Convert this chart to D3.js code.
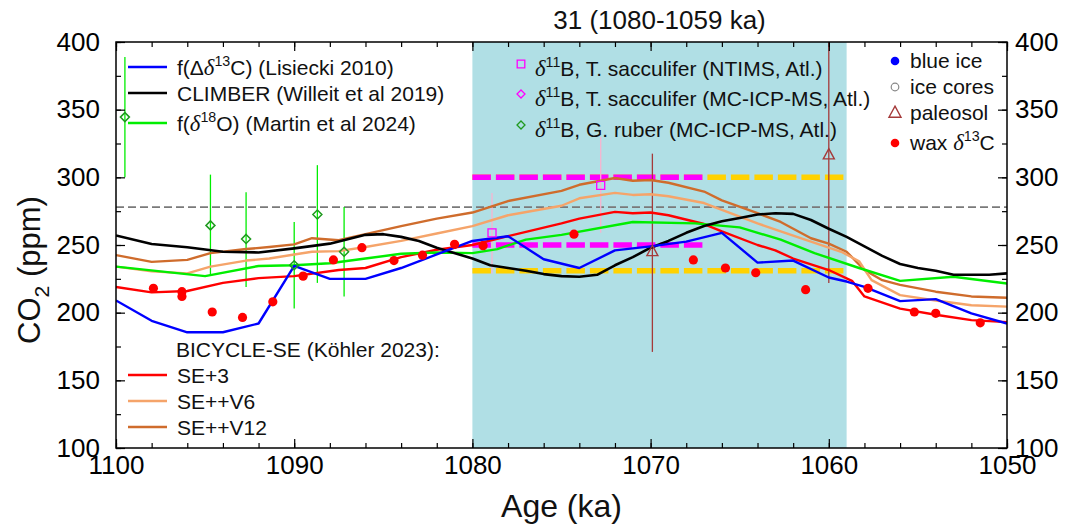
<!DOCTYPE html>
<html>
<head>
<meta charset="utf-8">
<script src="https://cdn.jsdelivr.net/npm/d3@7"></script>
<style>
  html, body { margin: 0; padding: 0; background: #fff; }
  svg { display: block; font-family: "Liberation Sans", Arial, Helvetica, sans-serif; }
</style>
</head>
<body>
<svg id="chart" width="1068" height="529"></svg>
<script>
// ---------- axis ticks ----------
const ageTicks = [1100, 1090, 1080, 1070, 1060, 1050];
const ageMinorTicks = d3.range(1100, 1049, -2);
const co2Ticks = [100, 150, 200, 250, 300, 350, 400];
const co2MinorTicks = d3.range(100, 401, 25);

// ---------- window of interest (MIS 31) ----------
const stageWindow = [1080, 1059];
const preindustrialCO2 = 278;

// ---------- f(Δδ13C), Lisiecki 2010 ----------
const lisieckiAge = [1100, 1098, 1096, 1094, 1092, 1090, 1088, 1086, 1084, 1082, 1080, 1078, 1076, 1074, 1072, 1070, 1068, 1066, 1064, 1062, 1060, 1059, 1058, 1056, 1054, 1052, 1050];
const lisieckiCO2 = [209, 194, 185.5, 185.5, 192, 234.5, 225, 225, 233, 243, 253, 256.5, 239.5, 233, 246, 249, 252.5, 259, 237, 238.5, 226, 223, 219, 208.5, 210, 199.5, 192];

// ---------- CLIMBER, Willeit et al 2019 ----------
const climberAge = [1100, 1098, 1096, 1094, 1092, 1090, 1088, 1086, 1085, 1084, 1083, 1082, 1080, 1079, 1078, 1077, 1076, 1075, 1074, 1073, 1072, 1071, 1070, 1069, 1068, 1067, 1066, 1065, 1064, 1063, 1062, 1061, 1060, 1059, 1058, 1057, 1056, 1055, 1054, 1053, 1052, 1051, 1050];
const climberCO2 = [257, 250.7, 248.3, 245, 244.5, 247.5, 251, 257.5, 258, 256, 253, 248, 240, 235, 233, 231, 228.5, 227, 226.5, 228, 235, 241, 248, 253, 259, 264, 267.5, 270, 272.5, 273.5, 273, 268.5, 262, 256, 249, 242, 236, 233, 231, 228, 228, 228, 229];

// ---------- f(δ18O), Martin et al 2024 ----------
const martinAge = [1100, 1095, 1092, 1090, 1088, 1086, 1084, 1082, 1080, 1078.6, 1077, 1075, 1071, 1067.5, 1065, 1062.7, 1060.8, 1058.3, 1056, 1053, 1050];
const martinCO2 = [234, 227, 234.5, 235, 236.5, 240, 243.5, 244.5, 244, 247, 254, 257.5, 267, 266, 263, 254, 244, 233, 223.5, 226.5, 221.5];

// ---------- BICYCLE-SE, Köhler 2023 ----------
const se3Age = [1100, 1098, 1096, 1094, 1092, 1090, 1087.5, 1086, 1084, 1082, 1080, 1078, 1075, 1074, 1072, 1071, 1070, 1069, 1067, 1066, 1064, 1063, 1062, 1060, 1058.7, 1058, 1056, 1054, 1052, 1050];
const se3CO2 = [219, 215, 216, 222, 225.5, 227, 231.5, 233, 241, 246.5, 250, 256.5, 266, 269.5, 274.5, 273.5, 274, 272, 265.5, 260, 250, 246, 240, 231.5, 223.5, 212, 203, 198.5, 194.5, 193];

const v6Age = [1100, 1098, 1096, 1094.7, 1092.7, 1091.4, 1090, 1089, 1087.5, 1086, 1084, 1082, 1080, 1078, 1075, 1074, 1072, 1071, 1070, 1069, 1067, 1066, 1064, 1062.7, 1061, 1059.3, 1058.3, 1057.6, 1056, 1054, 1052, 1050];
const v6CO2 = [234, 230.5, 229, 234, 238.5, 240, 243, 245, 245.5, 248.5, 253, 258.5, 264, 272, 279, 284.5, 288.5, 287, 287.5, 286, 281, 276, 266, 260, 252.5, 245, 238, 224, 213, 209, 205.5, 204.5];

const v12Age = [1100, 1098, 1096, 1094.7, 1092.7, 1091.4, 1090, 1089, 1087.5, 1086, 1084, 1082, 1080, 1078, 1075, 1074, 1072, 1071, 1070, 1069, 1067, 1066, 1064, 1062.7, 1061, 1060, 1059, 1058, 1057, 1056, 1054, 1052, 1050];
const v12CO2 = [242.5, 237.5, 239, 244, 247, 248.5, 250.5, 255, 253.5, 258, 264, 269.5, 274, 282.5, 290, 294.5, 299.5, 297.5, 298, 296, 289.5, 283, 273.5, 267, 255, 251, 245, 231.5, 224, 220.5, 215.5, 212, 211];

// ---------- proxy data ----------
const waxAge = [1097.9, 1096.3, 1096.3, 1094.6, 1092.9, 1091.2, 1089.5, 1087.8, 1086.2, 1084.4, 1082.8, 1081, 1079.4, 1074.3, 1067.6, 1065.8, 1064.1, 1061.3, 1057.8, 1055.2, 1054, 1051.5];
const waxCO2 = [218, 215.5, 212, 200.5, 196.5, 208, 227, 239, 248, 238.5, 242.5, 250.5, 249.5, 258, 239, 233, 229.5, 217, 218, 200.5, 199.5, 192.5];

const ruberAge = [1099.5, 1094.7, 1092.7, 1090, 1088.7, 1087.2];
const ruberCO2 = [344.5, 264.5, 254.5, 235, 272.5, 245];
const ruberLow = [300, 228, 219, 203, 222, 212];
const ruberHigh = [389, 302, 289, 267, 309, 278];

const ntimsAge = [1078.9, 1072.8];
const ntimsCO2 = [259, 294];
const ntimsLow = [229, 259];
const ntimsHigh = [288.5, 330];

const paleosolAge = [1069.9, 1060];
const paleosolCO2 = [245, 316.5];
const paleosolLow = [171, 222];
const paleosolHigh = [317.5, 420];

// δ11B MC-ICP-MS (T. sacculifer) range and the envelope of all window estimates
const mcicpmsSpan = [1080, 1067];
const mcicpmsLevels = [300, 250];
const envelopeSpan = [1080, 1059];
const envelopeLevels = [300, 231];

// ---------- colours ----------
const C = {
  blue: "#0000ff", black: "#000000", green: "#00ee00", red: "#ff0000",
  v6: "#f5a46a", v12: "#cf6c2c", magenta: "#ff00ff", gold: "#ffd200",
  paleo: "#a53a3a", ruber: "#1f9a1f", pink: "#f7b4cf", shade: "#b0dfe5"
};

// ---------- layout ----------
const svg = d3.select("#chart");
const x = d3.scaleLinear().domain([1100, 1050]).range([116, 1007]);
const y = d3.scaleLinear().domain([100, 400]).range([448, 42]);
const [x0, x1] = x.range();
const [yb, yt] = y.range();

svg.append("defs").append("clipPath").attr("id", "plotclip")
  .append("rect").attr("x", x0).attr("y", yt).attr("width", x1 - x0).attr("height", yb - yt);

const plot = svg.append("g").attr("clip-path", "url(#plotclip)");

// shaded interglacial window
plot.append("rect")
  .attr("x", x(stageWindow[0])).attr("width", x(stageWindow[1]) - x(stageWindow[0]))
  .attr("y", yt).attr("height", yb - yt)
  .attr("fill", C.shade);

// pre-industrial reference
plot.append("line")
  .attr("x1", x0).attr("x2", x1)
  .attr("y1", y(preindustrialCO2)).attr("y2", y(preindustrialCO2))
  .attr("stroke", "#7a7a7a").attr("stroke-width", 1.6).attr("stroke-dasharray", "8,4");

// range bars (thick dashed)
function rangeLines(span, levels, color) {
  plot.selectAll(null).data(levels).enter().append("line")
    .attr("x1", x(span[0])).attr("x2", x(span[1]))
    .attr("y1", d => y(d)).attr("y2", d => y(d))
    .attr("stroke", color).attr("stroke-width", 5.5)
    .attr("stroke-dasharray", "18.5,5");
}
rangeLines(envelopeSpan, envelopeLevels, C.gold);
rangeLines(mcicpmsSpan, mcicpmsLevels, C.magenta);

// error bars
function errorBars(ages, lows, highs, color, w) {
  plot.selectAll(null).data(ages).enter().append("line")
    .attr("x1", d => x(d)).attr("x2", d => x(d))
    .attr("y1", (d, i) => y(lows[i])).attr("y2", (d, i) => y(highs[i]))
    .attr("stroke", color).attr("stroke-width", w);
}
errorBars(ruberAge, ruberLow, ruberHigh, C.green, 1.3);
errorBars(ntimsAge, ntimsLow, ntimsHigh, C.pink, 1.3);
errorBars(paleosolAge, paleosolLow, paleosolHigh, C.paleo, 1.3);

// model / reconstruction curves
const line = d3.line().x(d => x(d[0])).y(d => y(d[1]));
function curve(ages, vals, color, w) {
  plot.append("path")
    .datum(d3.zip(ages, vals))
    .attr("d", line)
    .attr("fill", "none").attr("stroke", color).attr("stroke-width", w)
    .attr("stroke-linejoin", "round");
}
curve(v12Age, v12CO2, C.v12, 2.4);
curve(v6Age, v6CO2, C.v6, 2.4);
curve(se3Age, se3CO2, C.red, 2.4);
curve(martinAge, martinCO2, C.green, 2.4);
curve(climberAge, climberCO2, C.black, 2.6);
curve(lisieckiAge, lisieckiCO2, C.blue, 2.4);

// marker shapes
const diamond = r => `M0,${-r}L${r},0L0,${r}L${-r},0Z`;
const square = r => `M${-r},${-r}H${r}V${r}H${-r}Z`;
const triangle = r => `M0,${-r * 1.15}L${r},${r * 0.7}L${-r},${r * 0.7}Z`;

function markers(ages, vals, pathStr, stroke, fill, sw) {
  plot.selectAll(null).data(ages).enter().append("path")
    .attr("transform", (d, i) => `translate(${x(d)},${y(vals[i])})`)
    .attr("d", pathStr)
    .attr("fill", fill).attr("stroke", stroke).attr("stroke-width", sw);
}
plot.selectAll(null).data(waxAge).enter().append("circle")
  .attr("cx", d => x(d)).attr("cy", (d, i) => y(waxCO2[i]))
  .attr("r", 4.6).attr("fill", C.red);
markers(ruberAge, ruberCO2, diamond(4.5), C.ruber, "none", 1.5);
markers(ntimsAge, ntimsCO2, square(4), C.magenta, "none", 1.3);
markers(paleosolAge, paleosolCO2, triangle(5.5), C.paleo, "none", 1.4);

// ---------- axes ----------
function styleAxis(g) {
  g.select(".domain").remove();
  g.selectAll(".tick line").attr("stroke", "#000").attr("stroke-width", 1.2);
  g.selectAll(".tick text").attr("font-size", 26).attr("fill", "#000")
    .attr("font-family", "'Liberation Sans', Arial, sans-serif");
}
const fmt = d3.format("d");
svg.append("g").attr("transform", `translate(0,${yb})`)
  .call(d3.axisBottom(x).tickValues(ageMinorTicks).tickSize(-5).tickFormat(""))
  .call(styleAxis);
svg.append("g").attr("transform", `translate(0,${yb})`)
  .call(d3.axisBottom(x).tickValues(ageTicks).tickSize(-9).tickPadding(8).tickFormat(fmt))
  .call(styleAxis);
svg.append("g").attr("transform", `translate(0,${yt})`)
  .call(d3.axisTop(x).tickValues(ageMinorTicks).tickSize(-5).tickFormat(""))
  .call(styleAxis);
svg.append("g").attr("transform", `translate(0,${yt})`)
  .call(d3.axisTop(x).tickValues(ageTicks).tickSize(-9).tickFormat(""))
  .call(styleAxis);
svg.append("g").attr("transform", `translate(${x0},0)`)
  .call(d3.axisLeft(y).tickValues(co2MinorTicks).tickSize(-5).tickFormat(""))
  .call(styleAxis);
svg.append("g").attr("transform", `translate(${x0},0)`)
  .call(d3.axisLeft(y).tickValues(co2Ticks).tickSize(-9).tickPadding(16).tickFormat(fmt))
  .call(styleAxis);
svg.append("g").attr("transform", `translate(${x1},0)`)
  .call(d3.axisRight(y).tickValues(co2MinorTicks).tickSize(-5).tickFormat(""))
  .call(styleAxis);
svg.append("g").attr("transform", `translate(${x1},0)`)
  .call(d3.axisRight(y).tickValues(co2Ticks).tickSize(-9).tickPadding(8).tickFormat(fmt))
  .call(styleAxis);

// frame
svg.append("rect").attr("x", x0).attr("y", yt).attr("width", x1 - x0).attr("height", yb - yt)
  .attr("fill", "none").attr("stroke", "#000").attr("stroke-width", 1.5);

// ---------- text helpers ----------
function rich(sel, parts, size) {
  let shift = 0;
  parts.forEach(p => {
    const s = typeof p === "string" ? { t: p } : p;
    const target = s.sup ? -0.42 * size : s.sub ? 0.28 * size : 0;
    const t = sel.append("tspan").text(s.t).attr("dy", target - shift);
    shift = target;
    if (s.sup || s.sub) t.attr("font-size", size * 0.68);
    if (s.it) t.attr("font-family", "'Liberation Serif', 'DejaVu Serif', serif").attr("font-style", "italic").attr("font-size", size * 1.08);
  });
}
function label(xp, yp, parts, size, anchor) {
  const t = svg.append("text").attr("x", xp).attr("y", yp)
    .attr("font-size", size).attr("fill", "#111").attr("text-anchor", anchor || "start");
  rich(t, parts, size);
  return t;
}

// title and axis titles
label((x(stageWindow[0]) + x(stageWindow[1])) / 2, 29, ["31 (1080-1059 ka)"], 26, "middle");
label((x0 + x1) / 2, 517, ["Age (ka)"], 32, "middle");
svg.append("text")
  .attr("transform", `translate(40,${(yt + yb) / 2 + 25}) rotate(-90)`)
  .attr("text-anchor", "middle").attr("font-size", 31).attr("fill", "#111")
  .call(t => rich(t, ["CO", { t: "2", sub: true }, " (ppm)"], 31));

// ---------- legends ----------
const LS = 21;
const lineLegend = [
  { color: C.blue, y: 67, parts: ["f(Δ", { t: "δ", it: true }, { t: "13", sup: true }, "C) (Lisiecki 2010)"] },
  { color: C.black, y: 93, parts: ["CLIMBER (Willeit et al 2019)"] },
  { color: C.green, y: 123, parts: ["f(", { t: "δ", it: true }, { t: "18", sup: true }, "O) (Martin et al 2024)"] },
  { color: C.red, y: 375, parts: ["SE+3"] },
  { color: C.v6, y: 401, parts: ["SE++V6"] },
  { color: C.v12, y: 427, parts: ["SE++V12"] }
];
lineLegend.forEach(d => {
  svg.append("line").attr("x1", 128).attr("x2", 167).attr("y1", d.y).attr("y2", d.y)
    .attr("stroke", d.color).attr("stroke-width", 2.6);
  label(177, d.y + 8, d.parts, LS);
});
label(176, 357, ["BICYCLE-SE (Köhler 2023):"], LS);

const boronLegend = [
  { y: 64, base: 76, shape: square(3.8), stroke: C.magenta, parts: [{ t: "δ", it: true }, { t: "11", sup: true }, "B, T. sacculifer (NTIMS, Atl.)"] },
  { y: 94, base: 106, shape: diamond(4), stroke: C.magenta, parts: [{ t: "δ", it: true }, { t: "11", sup: true }, "B, T. sacculifer (MC-ICP-MS, Atl.)"] },
  { y: 125, base: 137, shape: diamond(4), stroke: C.ruber, parts: [{ t: "δ", it: true }, { t: "11", sup: true }, "B, G. ruber (MC-ICP-MS, Atl.)"] }
];
boronLegend.forEach(d => {
  svg.append("path").attr("transform", `translate(521,${d.y})`).attr("d", d.shape)
    .attr("fill", "none").attr("stroke", d.stroke).attr("stroke-width", 1.3);
  label(535, d.base, d.parts, LS);
});

const archiveLegend = [
  { y: 61, base: 68, kind: "dot", color: C.blue, parts: ["blue ice"] },
  { y: 87, base: 94, kind: "ring", color: "#888", parts: ["ice cores"] },
  { y: 113, base: 120, kind: "tri", color: C.paleo, parts: ["paleosol"] },
  { y: 143, base: 150, kind: "dot", color: C.red, parts: ["wax ", { t: "δ", it: true }, { t: "13", sup: true }, "C"] }
];
archiveLegend.forEach(d => {
  if (d.kind === "dot") {
    svg.append("circle").attr("cx", 895).attr("cy", d.y).attr("r", 4.3).attr("fill", d.color);
  } else if (d.kind === "ring") {
    svg.append("circle").attr("cx", 895).attr("cy", d.y).attr("r", 3.8)
      .attr("fill", "none").attr("stroke", d.color).attr("stroke-width", 1.2);
  } else {
    svg.append("path").attr("transform", `translate(895,${d.y})`).attr("d", triangle(6))
      .attr("fill", "none").attr("stroke", d.color).attr("stroke-width", 1.4);
  }
  label(910, d.base, d.parts, LS);
});
</script>
</body>
</html>
